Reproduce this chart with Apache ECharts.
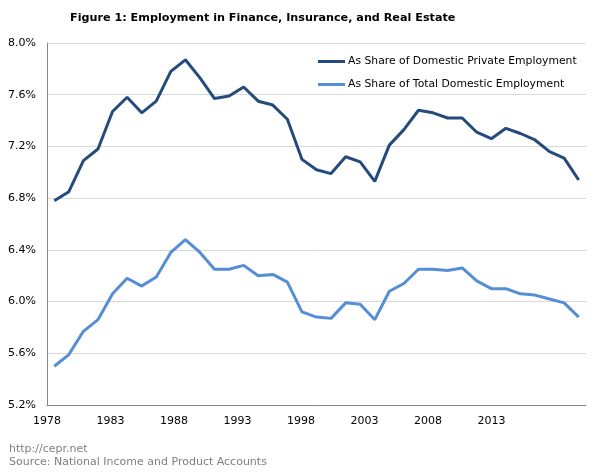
<!DOCTYPE html>
<html>
<head>
<meta charset="utf-8">
<script src="https://cdn.jsdelivr.net/npm/echarts@6/dist/echarts.min.js"></script>
<style>
html,body{margin:0;padding:0;background:#fff;}
#chart{width:600px;height:475px;}
</style>
</head>
<body>
<div id="chart"></div>
<script>
const years = [];
for (let y = 1978; y <= 2014; y++) years.push(String(y));
const xLabels = ['1978','1983','1988','1993','1998','2003','2008','2013'];
const privateShare = [6.78,6.85,7.09,7.18,7.47,7.58,7.46,7.55,7.78,7.87,7.73,7.57,7.59,7.66,7.55,7.52,7.41,
  7.10,7.02,6.99,7.12,7.08,6.93,7.21,7.33,7.48,7.46,7.42,7.42,7.31,7.26,7.34,7.30,7.25,7.16,7.11,6.94];
const totalShare = [5.50,5.59,5.77,5.86,6.06,6.18,6.12,6.19,6.38,6.48,6.38,6.25,6.25,6.28,6.20,6.21,6.15,
  5.92,5.88,5.87,5.99,5.98,5.86,6.08,6.14,6.25,6.25,6.24,6.26,6.16,6.10,6.10,6.06,6.05,6.02,5.99,5.88];
const seriesNames = ['As Share of Domestic Private Employment','As Share of Total Domestic Employment'];
const FONT = 'DejaVu Sans';

const chart = echarts.init(document.getElementById('chart'), null, {renderer:'canvas'});
chart.setOption({
  animation: false,
  backgroundColor: '#ffffff',
  textStyle: {fontFamily: FONT},
  title: [
    {text: 'Figure 1: Employment in Finance, Insurance, and Real Estate', left: 70, top: 13, padding: 0,
     textStyle: {fontFamily: FONT, fontSize: 11.2, fontWeight: 'bold', color: '#000'}},
    {text: 'http://cepr.net\nSource: National Income and Product Accounts', left: 9, top: 443, padding: 0,
     textStyle: {fontFamily: FONT, fontSize: 11, fontWeight: 'normal', color: '#7f7f7f', lineHeight: 13}}
  ],
  legend: {
    orient: 'vertical', left: 318, top: 56, itemGap: 12, padding: 0,
    icon: 'rect', itemWidth: 27, itemHeight: 3,
    textStyle: {fontFamily: FONT, fontSize: 10.8, color: '#000', padding: [0,0,0,-2]},
    data: seriesNames
  },
  grid: {left: 47, right: 14, top: 43, bottom: 70},
  xAxis: [
    {type: 'category', data: years, boundaryGap: true,
     axisLine: {show: true, lineStyle: {color: '#868686', width: 1}},
     axisTick: {show: false}, axisLabel: {show: false}, splitLine: {show: false}},
    {type: 'value', position: 'bottom', min: 0, max: 8.49, interval: 1,
     axisLine: {show: false}, axisTick: {show: false}, splitLine: {show: false},
     axisLabel: {show: true, margin: 11, fontFamily: FONT, fontSize: 11, color: '#000',
       showMaxLabel: false,
       formatter: v => (Math.abs(v - Math.round(v)) < 1e-6 && xLabels[Math.round(v)]) ? xLabels[Math.round(v)] : ''}}
  ],
  yAxis: {
    type: 'value', min: 5.2, max: 8.0, interval: 0.4,
    axisLine: {show: true, lineStyle: {color: '#868686', width: 1}},
    axisTick: {show: false},
    axisLabel: {margin: 11, fontFamily: FONT, fontSize: 11, color: '#000', formatter: v => v.toFixed(1) + '%'},
    splitLine: {show: true, lineStyle: {color: '#d9d9d9', width: 1}}
  },
  series: [
    {name: seriesNames[0], type: 'line', xAxisIndex: 0, data: privateShare, symbol: 'none',
     lineStyle: {color: '#254b7c', width: 3}, itemStyle: {color: '#254b7c'}, z: 3},
    {name: seriesNames[1], type: 'line', xAxisIndex: 0, data: totalShare, symbol: 'none',
     lineStyle: {color: '#558ed5', width: 3}, itemStyle: {color: '#558ed5'}, z: 2}
  ]
});
</script>
</body>
</html>
